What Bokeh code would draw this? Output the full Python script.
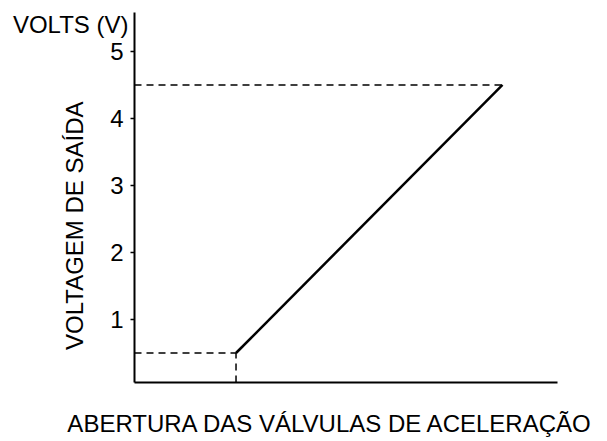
import math
from bokeh.plotting import figure
from bokeh.models import FixedTicker, Label
from bokeh.embed import file_html
from bokeh.resources import INLINE

# Data (schematic sensor curve)
line_x = [24, 87]          # throttle opening (% of axis)
line_y = [0.5, 4.5]        # output voltage (V)
y_ticks = [1, 2, 3, 4, 5]
y_title = "VOLTAGEM DE SAÍDA"
x_title = "ABERTURA DAS VÁLVULAS DE ACELERAÇÃO"
unit_title = "VOLTS (V)"

FONT = "Liberation Sans"
Y0 = 0.06   # where the horizontal axis sits
Y1 = 5.58   # top of the vertical axis

p = figure(width=591, height=440, output_backend="svg", toolbar_location=None,
           x_range=(-31.68, 108.04), y_range=(-0.806, 5.761),
           min_border=0, min_border_left=0, min_border_right=0,
           min_border_top=0, min_border_bottom=0)
p.outline_line_color = None
p.xgrid.visible = False
p.ygrid.visible = False
p.background_fill_color = "white"
p.border_fill_color = "white"

# y axis, fixed at x = 0
p.yaxis.fixed_location = 0
p.yaxis.bounds = (Y0, Y1)
p.yaxis.ticker = FixedTicker(ticks=y_ticks)
p.yaxis.axis_line_width = 2
p.yaxis.axis_line_color = "black"
p.yaxis.major_tick_line_color = "black"
p.yaxis.major_tick_line_width = 1.5
p.yaxis.major_tick_out = 4
p.yaxis.major_tick_in = 0
p.yaxis.minor_tick_line_color = None
p.yaxis.major_label_text_font = FONT
p.yaxis.major_label_text_font_size = "24px"
p.yaxis.major_label_text_color = "black"
p.yaxis.major_label_standoff = 7

# x axis: line only, fixed at y = Y0
p.xaxis.fixed_location = Y0
p.xaxis.bounds = (0, 100)
p.xaxis.ticker = FixedTicker(ticks=[])
p.xaxis.axis_line_width = 2
p.xaxis.axis_line_color = "black"
p.xaxis.major_tick_line_color = None
p.xaxis.minor_tick_line_color = None
p.xaxis.major_label_text_font_size = "0px"

# dashed guides
p.line([0, line_x[0]], [line_y[0], line_y[0]], line_color="black", line_width=1.5, line_dash="7 5")
p.line([line_x[0], line_x[0]], [Y0, line_y[0]], line_color="black", line_width=1.5, line_dash="7 5")
p.line([0, line_x[1]], [line_y[1], line_y[1]], line_color="black", line_width=1.5, line_dash="7 5")

# main line
p.line(line_x, line_y, line_color="black", line_width=2.5)

p.add_layout(Label(x=46.3, y=-0.552, text=x_title, text_align="center", text_baseline="middle",
                   text_font=FONT, text_font_size="24px", text_color="black"))
p.add_layout(Label(x=-14.3, y=2.40, text=y_title, angle=math.pi / 2, text_align="center",
                   text_baseline="middle", text_font=FONT, text_font_size="24px", text_color="black"))
p.add_layout(Label(x=-1.42, y=5.40, text=unit_title, text_align="right", text_baseline="middle",
                   text_font=FONT, text_font_size="24px", text_color="black"))

open("out.html", "w").write(file_html(p, INLINE))
